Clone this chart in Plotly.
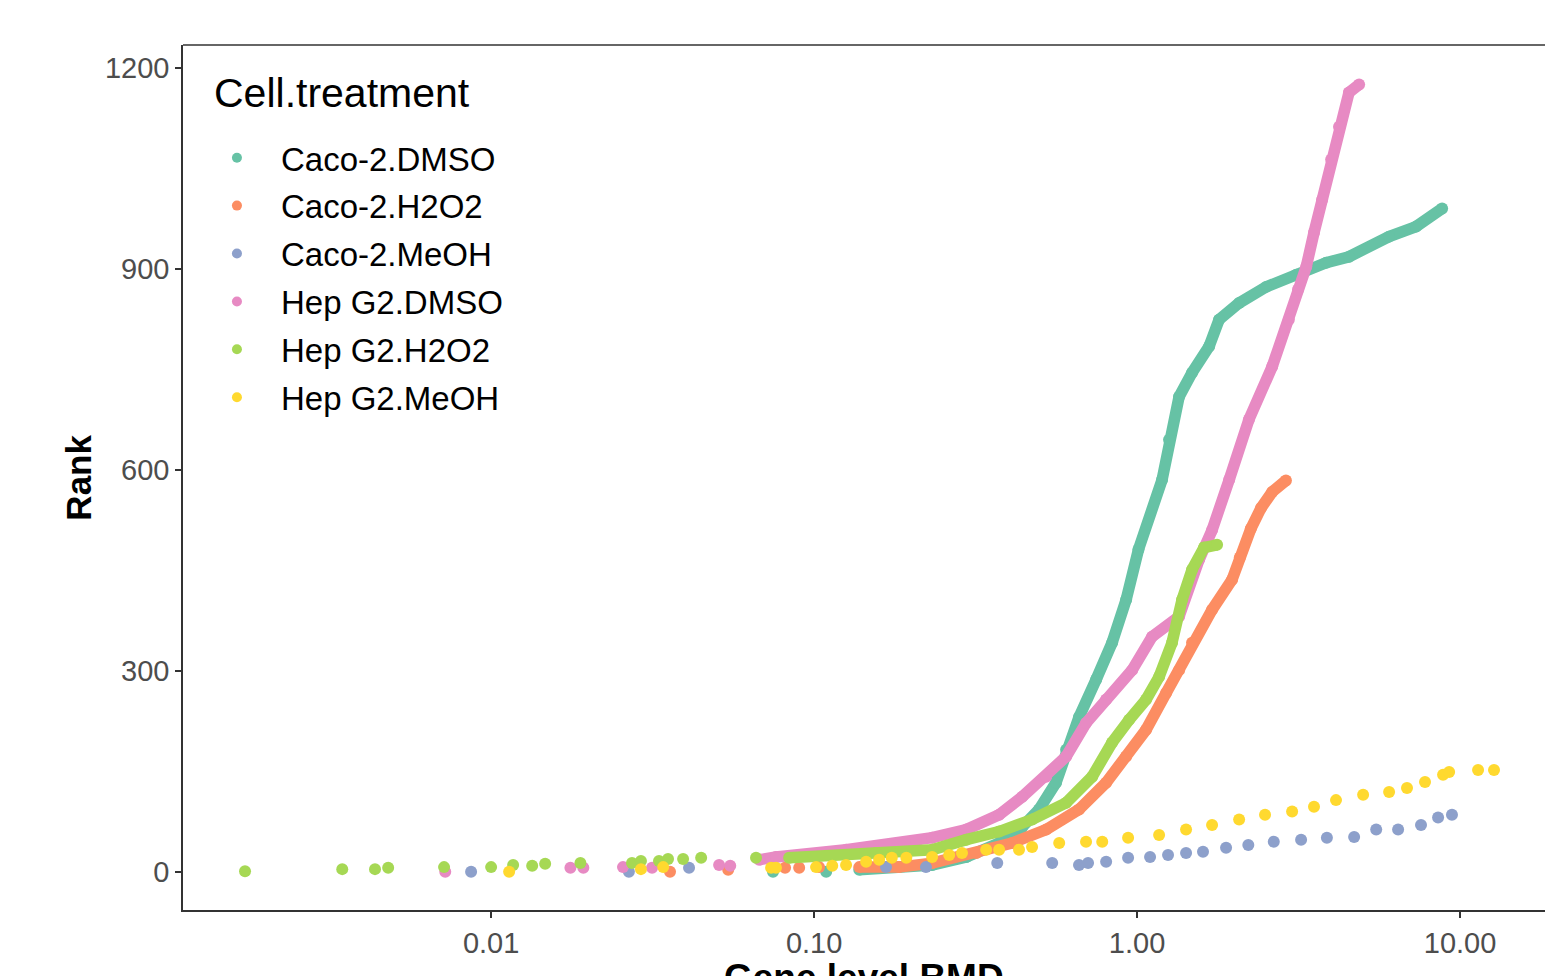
import plotly.graph_objects as go

FONT = "Liberation Sans, Arial, sans-serif"

series_names = ["Caco-2.DMSO", "Caco-2.H2O2", "Caco-2.MeOH",
                "Hep G2.DMSO", "Hep G2.H2O2", "Hep G2.MeOH"]
series_colors = ["#66C2A5", "#FC8D62", "#8DA0CB", "#E78AC3", "#A6D854", "#FFD92F"]

# ---- Caco-2.DMSO ----
caco_dmso_sparse_bmd = [0.0746, 0.109]
caco_dmso_sparse_rank = [0, 0]
caco_dmso_bmd = [0.138, 0.183, 0.232, 0.296, 0.374, 0.441, 0.497, 0.561, 0.603, 0.661,
                 0.747, 0.837, 0.925, 1.01, 1.195, 1.256, 1.349, 1.48, 1.671, 1.794,
                 2.07, 2.51, 3.11, 3.85, 4.53, 6.03, 7.31, 8.80]
caco_dmso_rank = [3, 7, 10, 22, 43, 67, 93, 133, 182, 231,
                  287, 342, 406, 481, 585, 645, 709, 745, 784, 824,
                  849, 873, 891, 909, 918, 948, 963, 990]

# ---- Caco-2.H2O2 ----
caco_h2o2_sparse_bmd = [0.0358, 0.0542, 0.0813, 0.0899, 0.1036]
caco_h2o2_sparse_rank = [0, 3, 6, 6, 7]
caco_h2o2_bmd = [0.138, 0.183, 0.232, 0.318, 0.410, 0.523, 0.661, 0.802, 0.925, 1.066,
                 1.230, 1.349, 1.480, 1.707, 1.968, 2.08, 2.25, 2.42, 2.62, 2.89]
caco_h2o2_rank = [7, 7, 13, 28, 43, 63, 93, 133, 172, 212,
                  267, 301, 342, 391, 436, 469, 512, 543, 567, 584]

# ---- Caco-2.MeOH ----
caco_meoh_bmd = [0.00867, 0.0267, 0.0410, 0.167, 0.222, 0.369, 0.546, 0.661, 0.705, 0.802,
                 0.938, 1.097, 1.247, 1.418, 1.600, 1.886, 2.21, 2.65, 3.22, 3.87,
                 4.70, 5.50, 6.43, 7.57, 8.55, 9.44]
caco_meoh_rank = [0, 0, 6, 7, 7, 13, 13, 10, 13, 15,
                  21, 22, 25, 28, 30, 36, 40, 45, 48, 51,
                  52, 63, 63, 70, 81, 85]

# ---- Hep G2.DMSO ----
hep_dmso_sparse_bmd = [0.00721, 0.0176, 0.0193, 0.0256, 0.0315, 0.0508, 0.0550]
hep_dmso_sparse_rank = [0, 6, 6, 7, 6, 10, 9]
hep_dmso_bmd = [0.0676, 0.0762, 0.1256, 0.207, 0.232, 0.296, 0.374, 0.441, 0.523, 0.603,
                0.695, 0.802, 0.965, 1.113, 1.349, 1.556, 1.707, 1.928, 2.22, 2.62,
                2.95, 3.15, 3.34, 3.53, 3.74, 3.99, 4.22, 4.53, 4.87]
hep_dmso_rank = [18, 22, 33, 45, 51, 63, 85, 112, 142, 172,
                 222, 257, 301, 351, 381, 466, 510, 585, 675, 754,
                 824, 869, 903, 954, 1003, 1063, 1112, 1163, 1175]

# ---- Hep G2.H2O2 ----
hep_h2o2_sparse_bmd = [0.00173, 0.00346, 0.00437, 0.00480, 0.00715, 0.0100, 0.0117, 0.0134,
                       0.0147, 0.0189, 0.0273, 0.0291, 0.0331, 0.0353, 0.0393, 0.0447, 0.0661]
hep_h2o2_sparse_rank = [1, 4, 4, 6, 7, 7, 10, 9, 12, 13, 13, 16, 16, 19, 19, 21, 21]
hep_h2o2_bmd = [0.0837, 0.1556, 0.232, 0.296, 0.374, 0.473, 0.603, 0.726, 0.837, 0.945,
                1.066, 1.170, 1.283, 1.378, 1.480, 1.612, 1.769]
hep_h2o2_rank = [21, 28, 33, 48, 60, 78, 103, 142, 193, 227,
                 257, 291, 342, 406, 451, 484, 488]

# ---- Hep G2.MeOH ----
hep_meoh_bmd = [0.01137, 0.0291, 0.0341, 0.0736, 0.0762, 0.1014, 0.1138, 0.1256, 0.1449, 0.159,
                0.174, 0.193, 0.232, 0.262, 0.287, 0.341, 0.374, 0.431, 0.473, 0.574,
                0.695, 0.780, 0.938, 1.170, 1.418, 1.707, 2.07, 2.49, 3.02, 3.53,
                4.13, 5.01, 6.03, 6.85, 7.79, 8.86, 9.25, 11.37, 12.74]
hep_meoh_rank = [0, 4, 7, 6, 6, 7, 9, 10, 15, 18,
                 21, 21, 22, 25, 28, 33, 33, 33, 37, 43,
                 45, 45, 51, 55, 63, 70, 78, 85, 90, 97,
                 107, 115, 119, 125, 134, 145, 149, 152, 152]

x_tick_vals = [0.01, 0.1, 1, 10]
x_tick_text = ["0.01", "0.10", "1.00", "10.00"]
y_tick_vals = [0, 300, 600, 900, 1200]
y_tick_text = ["0", "300", "600", "900", "1200"]

MS = 12
LW = 11.5

fig = go.Figure()

dense = {
    0: (caco_dmso_sparse_bmd, caco_dmso_sparse_rank, caco_dmso_bmd, caco_dmso_rank),
    1: (caco_h2o2_sparse_bmd, caco_h2o2_sparse_rank, caco_h2o2_bmd, caco_h2o2_rank),
    2: (caco_meoh_bmd, caco_meoh_rank, None, None),
    3: (hep_dmso_sparse_bmd, hep_dmso_sparse_rank, hep_dmso_bmd, hep_dmso_rank),
    4: (hep_h2o2_sparse_bmd, hep_h2o2_sparse_rank, hep_h2o2_bmd, hep_h2o2_rank),
    5: (hep_meoh_bmd, hep_meoh_rank, None, None),
}

for i, name in enumerate(series_names):
    col = series_colors[i]
    sx, sy, dx, dy = dense[i]
    fig.add_trace(go.Scatter(x=sx, y=sy, mode="markers", name=name, legendgroup=name,
                             showlegend=False, hoverinfo="skip",
                             marker=dict(size=MS, color=col, line=dict(width=0))))
    if dx is not None:
        fig.add_trace(go.Scatter(x=dx, y=dy, mode="lines+markers", name=name, legendgroup=name,
                                 showlegend=False, hoverinfo="skip",
                                 line=dict(color=col, width=LW, shape="linear"),
                                 marker=dict(size=MS, color=col, line=dict(width=0))))

# legend-only entries
for i, name in enumerate(series_names):
    fig.add_trace(go.Scatter(x=[None], y=[None], mode="markers", name=name, legendgroup=name,
                             showlegend=True,
                             marker=dict(size=10, color=series_colors[i], line=dict(width=0))))

fig.update_layout(
    width=1545, height=976,
    margin=dict(l=183, r=0, t=45, b=66),
    paper_bgcolor="white", plot_bgcolor="white",
    font=dict(family=FONT, color="black"),
    showlegend=True,
    legend=dict(
        x=0.0073, y=0.902, xanchor="left", yanchor="top",
        bgcolor="rgba(0,0,0,0)",
        font=dict(size=33, family=FONT, color="black"),
        tracegroupgap=2, itemwidth=78,
    ),
    xaxis=dict(
        type="log", range=[-2.954, 1.263],
        tickvals=x_tick_vals, ticktext=x_tick_text,
        showgrid=False, zeroline=False,
        showline=True, linecolor="#333333", linewidth=1.5,
        ticks="outside", ticklen=6, tickwidth=1.5, tickcolor="#333333",
        tickfont=dict(size=29, family=FONT, color="#4D4D4D"),
    ),
    yaxis=dict(
        range=[-57, 1234],
        tickvals=y_tick_vals, ticktext=y_tick_text,
        showgrid=False, zeroline=False,
        showline=True, linecolor="#333333", linewidth=1.5,
        ticks="outside", ticklen=6, tickwidth=1.5, tickcolor="#333333",
        tickfont=dict(size=29, family=FONT, color="#4D4D4D"),
    ),
    shapes=[dict(type="line", xref="paper", yref="paper", x0=0, x1=1, y0=1, y1=1,
                 line=dict(color="#333333", width=1.5))],
    annotations=[
        dict(text="Cell.treatment", xref="paper", yref="paper", x=0.0213, y=0.9445,
             showarrow=False, xanchor="left", yanchor="middle",
             font=dict(size=41, family=FONT, color="black")),
        dict(text="<b>Rank</b>", xref="paper", yref="paper", x=-0.077, y=0.5,
             textangle=-90, showarrow=False, xanchor="center", yanchor="middle",
             font=dict(size=35, family=FONT, color="black")),
        dict(text="<b>Gene level BMD</b>", xref="paper", yref="paper", x=0.5, y=-0.052,
             showarrow=False, xanchor="center", yanchor="top",
             font=dict(size=37, family=FONT, color="black")),
    ],
)

fig.write_html("out.html", config={"displayModeBar": False},
               post_script="document.body.style.margin='0';document.body.style.overflow='hidden';")
